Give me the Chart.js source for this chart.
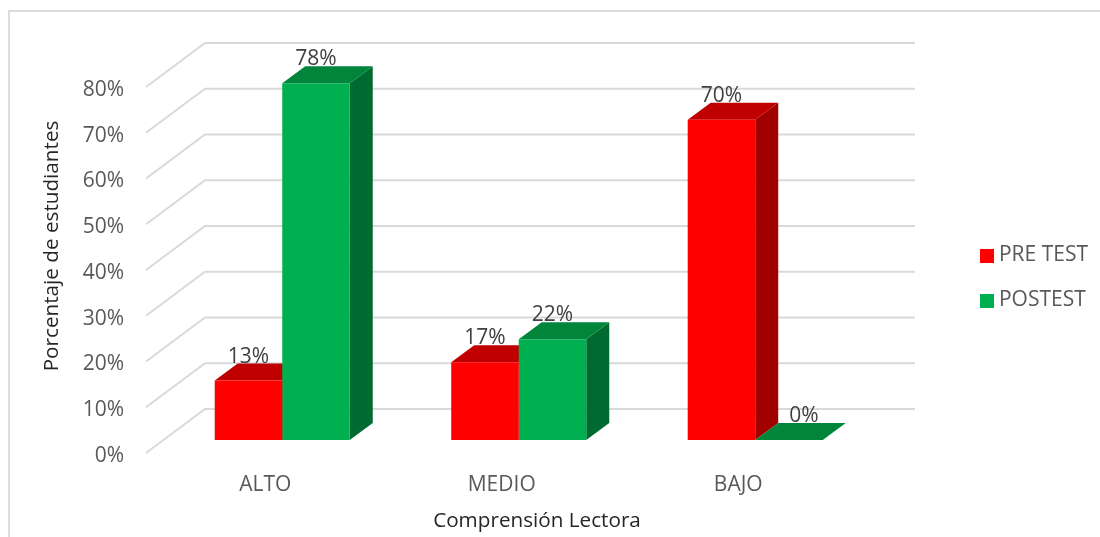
<!DOCTYPE html>
<html lang="es">
<head>
    <meta charset="utf-8">
    <title>Comprensión Lectora</title>
    <script src="https://cdn.jsdelivr.net/npm/chart.js"></script>
    <style>
        html, body { margin: 0; padding: 0; background: #fff; overflow: hidden; }
        canvas { display: block; }
    </style>
</head>
<body>
<canvas id="chart" width="1100" height="537"></canvas>

<script>
    const categories = ['ALTO', 'MEDIO', 'BAJO'];
    const seriesNames = ['PRE TEST', 'POSTEST'];
    const preTest = [13, 17, 70];
    const posTest = [78, 22, 0];
    const yTicks = [0, 10, 20, 30, 40, 50, 60, 70, 80];
    const yTitle = 'Porcentaje de estudiantes';
    const xTitle = 'Comprensión Lectora';

    const FONT = '"Open Sans", sans-serif';
    const DEPTH_X = 23, DEPTH_Y = 17; // bar depth

    function face(ctx, color, pts) {
        ctx.fillStyle = color;
        ctx.beginPath();
        pts.forEach((p, i) => i ? ctx.lineTo(p[0], p[1]) : ctx.moveTo(p[0], p[1]));
        ctx.closePath();
        ctx.fill();
    }

    // legend square as an image, so the gap to the text can be narrower than Chart.js wants
    function swatch(color) {
        const c = document.createElement('canvas');
        c.width = c.height = 14;
        const g = c.getContext('2d');
        g.fillStyle = color;
        g.fillRect(0, 0, 14, 14);
        return c;
    }

    // Fake 3D: frame, walls and the top/side faces of every bar
    const bars3d = {
        id: 'bars3d',
        beforeDatasetsDraw(chart) {
            const ctx = chart.ctx, y = chart.scales.y;

            ctx.save();
            ctx.strokeStyle = '#dcdcdc';
            ctx.lineWidth = 2;
            ctx.beginPath();
            ctx.moveTo(9, 537);
            ctx.lineTo(9, 11);
            ctx.lineTo(1100, 11);
            ctx.stroke();

            ctx.strokeStyle = '#d9d9d9';
            yTicks.forEach(t => {
                const py = y.getPixelForValue(t);
                ctx.beginPath();
                ctx.moveTo(146, py + 13);
                ctx.lineTo(205, py - 31);
                ctx.lineTo(915, py - 31);
                ctx.stroke();
            });

            const shades = [['#a00000', '#c00000'], ['#006b30', '#00853a']];
            chart.data.datasets.forEach((ds, i) => {
                chart.getDatasetMeta(i).data.forEach(bar => {
                    const l = bar.x - bar.width / 2, r = bar.x + bar.width / 2;
                    if (bar.base - bar.y > 0) {
                        face(ctx, shades[i][0], [[r, bar.y], [r + DEPTH_X, bar.y - DEPTH_Y],
                            [r + DEPTH_X, bar.base - DEPTH_Y], [r, bar.base]]);
                    }
                    face(ctx, shades[i][1], [[l, bar.y], [l + DEPTH_X, bar.y - DEPTH_Y],
                        [r + DEPTH_X, bar.y - DEPTH_Y], [r, bar.y]]);
                });
            });
            ctx.restore();
        },
        afterDatasetsDraw(chart) {
            const ctx = chart.ctx;
            ctx.save();
            ctx.textAlign = 'center';
            ctx.textBaseline = 'middle';
            ctx.font = '21px ' + FONT;
            ctx.fillStyle = '#404040';
            chart.data.datasets.forEach((ds, i) => {
                chart.getDatasetMeta(i).data.forEach((bar, j) => {
                    const v = ds.data[j];
                    ctx.fillText(v + '%', bar.x + (v === 0 ? 15 : 0), bar.y - 24);
                });
            });

            // axis titles sit off-centre in the reference
            ctx.font = '20.7px ' + FONT;
            ctx.fillStyle = '#262626';
            ctx.fillText(xTitle, 537, 521);
            ctx.translate(52, 246);
            ctx.rotate(-Math.PI / 2);
            ctx.fillText(yTitle, 0, 0);
            ctx.restore();
        }
    };

    new Chart(document.getElementById('chart'), {
        type: 'bar',
        data: {
            labels: categories,
            datasets: [
                { label: seriesNames[0], data: preTest, backgroundColor: '#ff0000', borderWidth: 0, pointStyle: swatch('#ff0000') },
                { label: seriesNames[1], data: posTest, backgroundColor: '#00b050', borderWidth: 0, pointStyle: swatch('#00b050') }
            ]
        },
        options: {
            responsive: false,
            animation: false,
            layout: { padding: { left: 0, top: 52, right: 2, bottom: 33 } },
            datasets: { bar: { barPercentage: 1, categoryPercentage: 0.571 } },
            plugins: {
                tooltip: { enabled: false },
                legend: {
                    position: 'right',
                    labels: {
                        usePointStyle: true,
                        pointStyleWidth: 2,
                        boxHeight: 14,
                        padding: 24,
                        color: '#595959',
                        font: { family: FONT, size: 21 }
                    }
                }
            },
            scales: {
                x: {
                    grid: { display: false },
                    border: { display: false },
                    afterFit(s) { s.height = 64; },
                    ticks: {
                        padding: 24,
                        labelOffset: -17,
                        maxRotation: 0,
                        color: '#595959',
                        font: { family: FONT, size: 21 }
                    }
                },
                y: {
                    min: 0,
                    max: 80,
                    grid: { display: false, drawTicks: false },
                    border: { display: false },
                    afterFit(s) { s.width = 164; },
                    afterBuildTicks(s) { s.ticks = yTicks.map(value => ({ value })); },
                    ticks: {
                        padding: 40,
                        labelOffset: 16,
                        callback: v => v + '%',
                        color: '#595959',
                        font: { family: FONT, size: 21 }
                    }
                },
                // empty axes, they only hold the plot away from the legend and the top edge
                spacer: {
                    type: 'linear',
                    position: 'right',
                    grid: { display: false, drawTicks: false },
                    border: { display: false },
                    ticks: { display: false },
                    afterFit(s) { s.width = 89; }
                },
                spacerTop: {
                    type: 'category',
                    position: 'top',
                    grid: { display: false, drawTicks: false },
                    border: { display: false },
                    ticks: { display: false },
                    afterFit(s) { s.height = 22; }
                }
            }
        },
        plugins: [bars3d]
    });
</script>
</body>
</html>
